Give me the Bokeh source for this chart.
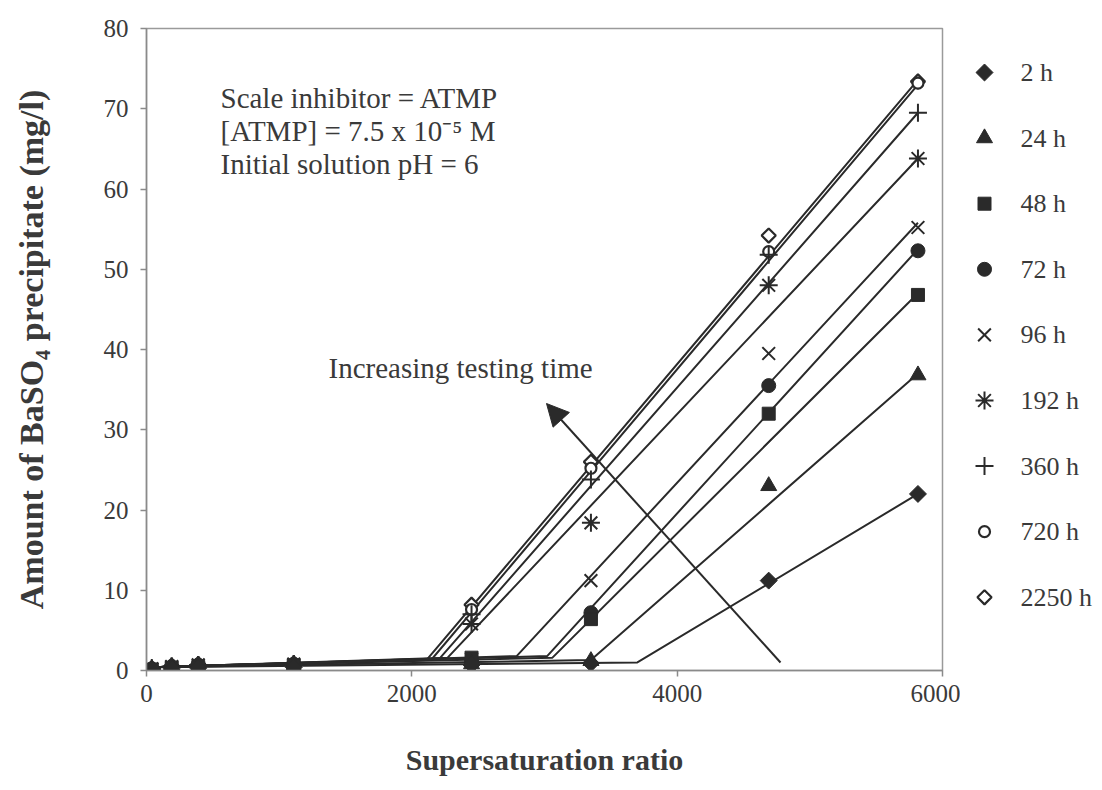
import math
from bokeh.plotting import figure
from bokeh.layouts import row
from bokeh.models import Label, Arrow, NormalHead, FixedTicker, Range1d
from bokeh.core.properties import value
from bokeh.embed import file_html
from bokeh.resources import INLINE

# ---------------- data ----------------
supersat = [40, 190, 390, 1110, 2450, 3350, 4690, 5815]

series_names = ["2 h", "24 h", "48 h", "72 h", "96 h", "192 h", "360 h", "720 h", "2250 h"]

y_2h    = [0.1, 0.2, 0.3, 0.4, 0.7, 0.9, 11.2, 22.0]
y_24h   = [0.1, 0.3, 0.4, 0.5, 0.8, 1.2, 23.0, 36.8]
y_48h   = [0.1, 0.3, 0.4, 0.6, 1.6, 6.4, 32.0, 46.8]
y_72h   = [0.2, 0.4, 0.5, 0.6, 1.2, 7.2, 35.5, 52.3]
y_96h   = [0.2, 0.4, 0.6, 0.7, 1.4, 11.2, 39.5, 55.2]
y_192h  = [0.2, 0.5, 0.7, 0.8, 5.8, 18.4, 48.0, 63.8]
y_360h  = [0.3, 0.5, 0.7, 0.8, 7.0, 23.8, 51.8, 69.5]
y_720h  = [0.3, 0.6, 0.8, 0.9, 7.6, 25.2, 52.2, 73.2]
y_2250h = [0.3, 0.6, 0.8, 0.9, 8.2, 26.0, 54.2, 73.4]

# fitted trend lines: start, break point (onset of precipitation), end
fit_x_2h    = [40, 3700, 5815];  fit_y_2h    = [0.4, 1.0, 22.0]
fit_x_24h   = [40, 3350, 5815];  fit_y_24h   = [0.4, 1.3, 37.0]
fit_x_48h   = [40, 3060, 5815];  fit_y_48h   = [0.4, 1.6, 47.0]
fit_x_72h   = [40, 3020, 5815];  fit_y_72h   = [0.4, 1.8, 52.5]
fit_x_96h   = [40, 2790, 5815];  fit_y_96h   = [0.4, 1.8, 55.8]
fit_x_192h  = [40, 2270, 5815];  fit_y_192h  = [0.4, 1.6, 63.8]
fit_x_360h  = [40, 2210, 5815];  fit_y_360h  = [0.4, 1.5, 69.5]
fit_x_720h  = [40, 2150, 5815];  fit_y_720h  = [0.4, 1.4, 73.0]
fit_x_2250h = [40, 2110, 5815];  fit_y_2250h = [0.4, 1.3, 73.6]

x_ticks = [0, 2000, 4000, 6000]
y_ticks = [0, 10, 20, 30, 40, 50, 60, 70, 80]

# ---------------- styling ----------------
FONT = "Liberation Serif"
DARK = "#2a2a2a"
TXT = "#3a3a3a"
MAIN_W = 960
TOP, BOTTOM = 28, 670   # frame top / bottom in page pixels

p = figure(width=MAIN_W, height=790, x_range=(0, 6000), y_range=(0, 80),
           output_backend="svg", toolbar_location=None,
           min_border_left=146, min_border_right=18,
           min_border_top=TOP, min_border_bottom=790 - BOTTOM)
p.background_fill_color = "white"
p.border_fill_color = "white"
p.outline_line_color = "#9a9a9a"
p.outline_line_width = 1.5
p.xgrid.visible = False
p.ygrid.visible = False

for ax in (p.xaxis, p.yaxis):
    ax.axis_line_color = "#8a8a8a"
    ax.axis_line_width = 1.5
    ax.major_tick_line_color = "#8a8a8a"
    ax.major_tick_line_width = 1.5
    ax.major_tick_out = 6
    ax.major_tick_in = 0
    ax.minor_tick_line_color = None
    ax.major_label_text_font = FONT
    ax.major_label_text_font_size = "25px"
    ax.major_label_text_color = TXT
    ax.axis_label_text_font = FONT
    ax.axis_label_text_font_style = "bold"
    ax.axis_label_text_color = TXT

p.xaxis.ticker = FixedTicker(ticks=x_ticks)
p.yaxis.ticker = FixedTicker(ticks=y_ticks)
p.xaxis.major_label_standoff = 8
p.yaxis.major_label_standoff = 12
p.xaxis.axis_label = "Supersaturation ratio"
p.yaxis.axis_label = "Amount of BaSO\u2084 precipitate (mg/l)"
p.xaxis.axis_label_text_font_size = "30px"
p.yaxis.axis_label_text_font_size = "34px"
p.xaxis.axis_label_standoff = 38
p.yaxis.axis_label_standoff = 51

fits = [
    (fit_x_2h, fit_y_2h), (fit_x_24h, fit_y_24h), (fit_x_48h, fit_y_48h),
    (fit_x_72h, fit_y_72h), (fit_x_96h, fit_y_96h), (fit_x_192h, fit_y_192h),
    (fit_x_360h, fit_y_360h), (fit_x_720h, fit_y_720h), (fit_x_2250h, fit_y_2250h),
]
for fx, fy in fits:
    p.line(fx, fy, line_color=DARK, line_width=2)

ys = [y_2h, y_24h, y_48h, y_72h, y_96h, y_192h, y_360h, y_720h, y_2250h]
rot = math.pi / 4
styles = [
    dict(marker="square", size=12, angle=rot, fill_color=DARK, line_color=DARK),
    dict(marker="triangle", size=16, fill_color=DARK, line_color=DARK),
    dict(marker="square", size=13, fill_color=DARK, line_color=DARK),
    dict(marker="circle", size=14, fill_color=DARK, line_color=DARK),
    dict(marker="x", size=18, fill_color=None, line_color=DARK, line_width=2),
    dict(marker="asterisk", size=18, fill_color=None, line_color=DARK, line_width=2),
    dict(marker="cross", size=18, fill_color=None, line_color=DARK, line_width=2),
    dict(marker="circle", size=11, fill_color="white", line_color=DARK, line_width=2.2),
    dict(marker="square", size=10, angle=rot, fill_color="white", line_color=DARK, line_width=2.2),
]
# longest-time series first so that the filled markers end up on top
for y, st in reversed(list(zip(ys, styles))):
    p.scatter(supersat, y, **st)

# annotations
notes = ["Scale inhibitor = ATMP", "[ATMP] = 7.5 x 10\u207b\u2075 M", "Initial solution pH = 6"]
for i, t in enumerate(notes):
    p.add_layout(Label(x=74, y=573 - 33 * i, x_units="screen", y_units="screen", text=t,
                       text_font=FONT, text_font_size="29px", text_color=TXT,
                       text_baseline="middle"))
p.add_layout(Label(x=182, y=303, x_units="screen", y_units="screen",
                   text="Increasing testing time", text_font=FONT,
                   text_font_size="29px", text_color=TXT, text_baseline="middle"))

p.add_layout(Arrow(end=NormalHead(size=22, fill_color=DARK, line_color=DARK),
                   x_start=634, y_start=8, x_end=400, y_end=267,
                   start_units="screen", end_units="screen",
                   line_color=DARK, line_width=2))

# ---------------- legend panel (page-pixel coordinate space) ----------------
LEG_W = 1102 - MAIN_W
leg = figure(width=LEG_W, height=790, x_range=Range1d(MAIN_W, 1102),
             y_range=Range1d(BOTTOM, TOP), output_backend="svg", toolbar_location=None,
             min_border=0)
leg.axis.visible = False
leg.xgrid.visible = False
leg.ygrid.visible = False
leg.outline_line_color = None
leg.background_fill_color = "white"
leg.border_fill_color = "white"

leg_y = [72 + 65.6 * i for i in range(len(series_names))]
for i, st in enumerate(styles):
    leg.scatter([984], [leg_y[i]], **st)
leg.text(x=[1020] * len(series_names), y=leg_y, text=series_names,
         text_font=value(FONT), text_font_size="26px", text_color=TXT,
         text_baseline="middle", text_align="left")

layout = row(p, leg)
open("out.html", "w").write(file_html(layout, INLINE))
